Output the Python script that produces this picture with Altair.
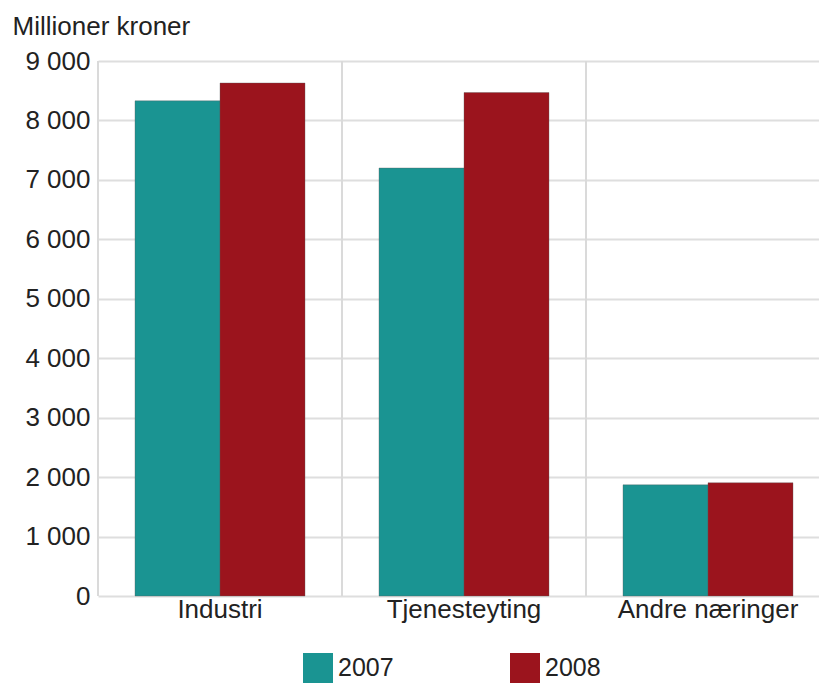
import altair as alt
import pandas as pd

categories = ["Industri", "Tjenesteyting", "Andre næringer"]
years = ["2007", "2008"]
values_2007 = [8330, 7200, 1870]
values_2008 = [8630, 8470, 1905]
y_ticks = [0, 1000, 2000, 3000, 4000, 5000, 6000, 7000, 8000, 9000]
colors = ["#1a9492", "#9b141d"]

rows = []
for c, a, b in zip(categories, values_2007, values_2008):
    rows.append({"cat": c, "year": years[0], "value": a})
    rows.append({"cat": c, "year": years[1], "value": b})
df = pd.DataFrame(rows)
grid_df = pd.DataFrame({"cat": categories})

W = 721
H = 535
FONT = "Liberation Sans"

xscale = alt.Scale(domain=categories, range=[0, 732], paddingInner=0.3033, paddingOuter=0.15165)

bars = alt.Chart(df).mark_bar(stroke="#5a5a5a", strokeWidth=0.8, strokeOpacity=0.45).encode(
    x=alt.X("cat:N", scale=xscale, sort=categories,
            axis=alt.Axis(title=None, labelAngle=0, labelAlign="center", bandPosition=0.5,
                          labelFontSize=26, labelPadding=13,
                          ticks=False, domain=False, grid=False, labelColor="#222222",
                          labelFont=FONT, labelLimit=300)),
    xOffset=alt.XOffset("year:N", sort=years),
    y=alt.Y("value:Q", scale=alt.Scale(domain=[0, 9000], nice=False),
            axis=alt.Axis(values=y_ticks, title="Millioner kroner", titleAngle=0,
                          titleX=-86, titleY=-27, titleAlign="left",
                          titleBaseline="alphabetic", titleFontSize=26,
                          titleFontWeight="normal", titleColor="#222222", titleFont=FONT,
                          labelExpr="replace(format(datum.value, ','), ',', ' ')",
                          labelFontSize=26, labelPadding=8, labelColor="#222222",
                          labelFont=FONT, ticks=False, domain=False,
                          gridColor="#dedede", gridWidth=2)),
    color=alt.Color("year:N", scale=alt.Scale(domain=years, range=colors),
                    legend=alt.Legend(title=None, orient="none", legendX=205, legendY=592,
                                      direction="horizontal", symbolType="square",
                                      symbolSize=900, symbolStrokeWidth=0,
                                      labelFontSize=25, labelOffset=5, columnPadding=116,
                                      padding=0, labelColor="#222222", labelFont=FONT)),
)

rules = alt.Chart(grid_df).mark_rule(color="#dadada", strokeWidth=2, xOffset=-122).encode(
    x=alt.X("cat:N", scale=xscale, sort=categories)
)

chart = alt.layer(rules, bars).properties(
    width=W, height=H, autosize="none",
    padding={"left": 90, "top": 53, "right": 0, "bottom": 87},
).configure_view(stroke=None)

chart.save("out.html", embed_options={"renderer": "svg", "actions": False})
